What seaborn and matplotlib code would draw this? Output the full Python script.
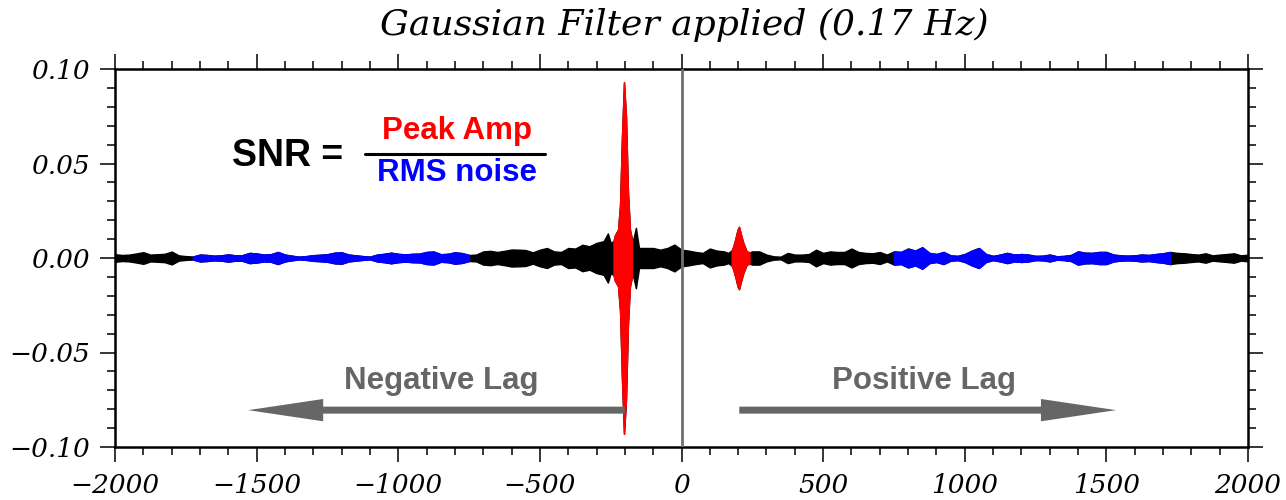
import matplotlib
matplotlib.use("Agg")
import matplotlib.pyplot as plt
import numpy as np
import pandas as pd
import seaborn as sns
from matplotlib.ticker import MultipleLocator, FuncFormatter

# lag times (s) and envelope half-amplitude (x 1e-3)
lag_s = [
    -2000, -1975, -1950, -1925, -1900, -1875, -1850, -1825, -1800, -1775,
    -1750, -1725, -1700, -1675, -1650, -1625, -1600, -1575, -1550, -1525,
    -1500, -1475, -1450, -1425, -1400, -1375, -1350, -1325, -1300, -1275,
    -1250, -1225, -1200, -1175, -1150, -1125, -1100, -1075, -1050, -1025,
    -1000, -975, -950, -925, -900, -875, -850, -825, -800, -775,
    -750, -725, -700, -675, -650, -625, -600, -575, -550, -525,
    -500, -475, -450, -425, -400, -375, -350, -325, -300, -275,
    -260, -250, -240, -235, -224, -217, -210, -203, -196, -189,
    -182, -175, -170, -161, -157, -150, -125, -100, -75, -50,
    -25, 0, 25, 50, 75, 100, 125, 150, 165, 177,
    183, 191, 198, 203, 210, 218, 230, 240, 250, 275,
    300, 325, 350, 375, 400, 425, 450, 475, 500, 525,
    550, 575, 600, 625, 650, 675, 700, 725, 750, 775,
    800, 825, 850, 875, 900, 925, 950, 975, 1000, 1025,
    1050, 1075, 1100, 1125, 1150, 1175, 1200, 1225, 1250, 1275,
    1300, 1325, 1350, 1375, 1400, 1425, 1450, 1475, 1500, 1525,
    1550, 1575, 1600, 1625, 1650, 1675, 1700, 1725, 1750, 1775,
    1800, 1825, 1850, 1875, 1900, 1925, 1950, 1975, 2000,
]
envelope_e3 = [
    2.0, 1.6, 1.8, 2.4, 3.1, 1.8, 2.0, 2.2, 3.4, 1.4,
    1.0, 0.8, 1.8, 1.6, 1.2, 1.4, 1.9, 1.4, 1.5, 2.7,
    2.4, 1.8, 2.0, 3.2, 1.8, 1.2, 0.7, 1.0, 1.5, 1.7,
    2.0, 2.8, 3.0, 1.8, 1.4, 1.0, 0.7, 1.8, 2.2, 2.8,
    2.2, 1.9, 2.2, 2.3, 3.2, 3.4, 2.0, 2.2, 3.0, 2.6,
    1.6, 1.8, 3.5, 3.8, 3.2, 3.8, 4.5, 4.4, 4.2, 3.0,
    4.4, 5.3, 3.5, 3.2, 5.3, 5.0, 7.0, 6.2, 8.0, 8.9,
    13.0, 8.0, 9.0, 12.0, 15.0, 28.0, 65.0, 93.0, 75.0, 35.0,
    15.0, 10.0, 10.0, 16.0, 12.0, 5.3, 5.3, 5.3, 4.4, 5.3,
    7.1, 4.4, 3.9, 3.2, 2.7, 5.0, 3.9, 3.5, 2.7, 4.0,
    6.2, 10.6, 15.0, 16.5, 12.4, 8.0, 3.5, 3.0, 3.5, 3.5,
    1.8, 0.9, 0.7, 2.7, 1.8, 1.8, 2.1, 4.4, 2.7, 3.5,
    3.2, 3.2, 5.0, 3.2, 2.7, 2.5, 3.2, 1.8, 3.5, 3.2,
    5.0, 3.9, 5.7, 2.7, 2.1, 3.2, 1.4, 1.1, 2.1, 3.9,
    5.3, 2.1, 1.1, 1.8, 2.7, 1.8, 2.1, 1.8, 1.1, 1.2,
    1.8, 0.9, 1.1, 1.6, 3.5, 2.8, 2.7, 3.2, 3.2, 1.8,
    1.4, 1.2, 1.4, 1.8, 1.6, 2.1, 2.5, 3.2, 2.7, 2.5,
    2.1, 1.8, 2.5, 1.4, 1.8, 2.1, 2.5, 1.4, 1.8,
]

# windows used for the SNR measurement
noise_windows = [(-1735, -736), (736, 1742)]
signal_windows = [(-240, -175), (177, 240)]

title = "Gaussian Filter applied (0.17 Hz)"

sns.set_theme(style="ticks")
plt.rcParams.update({
    "font.family": ["DejaVu Serif"],
    "text.color": "black",
    "axes.linewidth": 1.8,
    "xtick.direction": "out",
    "ytick.direction": "out",
    "xtick.major.size": 11,
    "ytick.major.size": 11,
    "xtick.minor.size": 5.5,
    "ytick.minor.size": 5.5,
    "xtick.major.width": 1.1,
    "ytick.major.width": 1.1,
    "xtick.minor.width": 1.1,
    "ytick.minor.width": 1.1,
    "xtick.color": "black",
    "ytick.color": "black",
    "xtick.labelcolor": "black",
    "ytick.labelcolor": "black",
    "axes.edgecolor": "black",
})

df = pd.DataFrame({"lag": lag_s, "amp": np.array(envelope_e3) * 1e-3})

fig = plt.figure(figsize=(12.86, 5.0), dpi=100)
ax = fig.add_axes([115 / 1286, 53 / 500, 1133 / 1286, 378 / 500])


def draw_trace(sub, color):
    ax.fill_between(sub["lag"], -sub["amp"], sub["amp"], color=color,
                    linewidth=1.0, edgecolor=color, zorder=2)


draw_trace(df, "black")
for a, b in noise_windows:
    draw_trace(df[(df["lag"] >= a) & (df["lag"] <= b)], "#0000ff")
for a, b in signal_windows:
    draw_trace(df[(df["lag"] >= a) & (df["lag"] <= b)], "#ff0000")

sns.lineplot(data=df, x="lag", y="amp", ax=ax, color="black", linewidth=0,
             legend=False)

ax.axvline(0, color="#707070", linewidth=2, zorder=3)

ax.set_xlim(-2000, 2000)
ax.set_ylim(-0.1, 0.1)
ax.set_xlabel("")
ax.set_ylabel("")
ax.xaxis.set_major_locator(MultipleLocator(500))
ax.xaxis.set_minor_locator(MultipleLocator(100))
ax.yaxis.set_major_locator(MultipleLocator(0.05))
ax.yaxis.set_minor_locator(MultipleLocator(0.01))
ax.yaxis.set_major_formatter(FuncFormatter(lambda v, p: f"{v:.2f}".replace("-", "\u2212")))
ax.xaxis.set_major_formatter(FuncFormatter(lambda v, p: f"{v:.0f}".replace("-", "\u2212")))
ax.tick_params(which="both", top=True, right=True)
ax.tick_params(axis="x", which="major", pad=8)
ax.tick_params(axis="y", which="major", pad=7)
for lab in ax.get_xticklabels() + ax.get_yticklabels():
    lab.set_fontstyle("italic")
    lab.set_fontsize(19)
    lab.set_fontfamily("DejaVu Serif")
    lab.set_color("black")

fig.text(684 / 1286, 1 - 25 / 500, title, ha="center", va="center",
         fontsize=26, style="italic", family="DejaVu Serif", color="black")

# SNR annotation
sans = ["Liberation Sans", "DejaVu Sans"]
ax.text(-1392, 0.054, "SNR =", ha="center", va="center", fontsize=27,
        fontweight="bold", family=sans, color="black")
ax.plot([-1117, -482], [0.0552, 0.0552], color="black", linewidth=2.2)
ax.text(-792, 0.0672, "Peak Amp", ha="center", va="center", fontsize=22.5,
        fontweight="bold", family=sans, color="#ff0000")
ax.text(-792, 0.0448, "RMS noise", ha="center", va="center", fontsize=22.5,
        fontweight="bold", family=sans, color="#0000ff")

# lag arrows
arrow_kw = dict(width=0.0037, head_width=0.0118, head_length=265,
                length_includes_head=True, color="#666666", linewidth=0,
                zorder=4)
ax.arrow(-200, -0.0805, -1330, 0, **arrow_kw)
ax.arrow(204, -0.0805, 1330, 0, **arrow_kw)
ax.text(-848, -0.0650, "Negative Lag", ha="center", va="center", fontsize=22.5,
        fontweight="bold", family=sans, color="#666666")
ax.text(856, -0.0650, "Positive Lag", ha="center", va="center", fontsize=22.5,
        fontweight="bold", family=sans, color="#666666")

fig.savefig("out.png", dpi=100)
